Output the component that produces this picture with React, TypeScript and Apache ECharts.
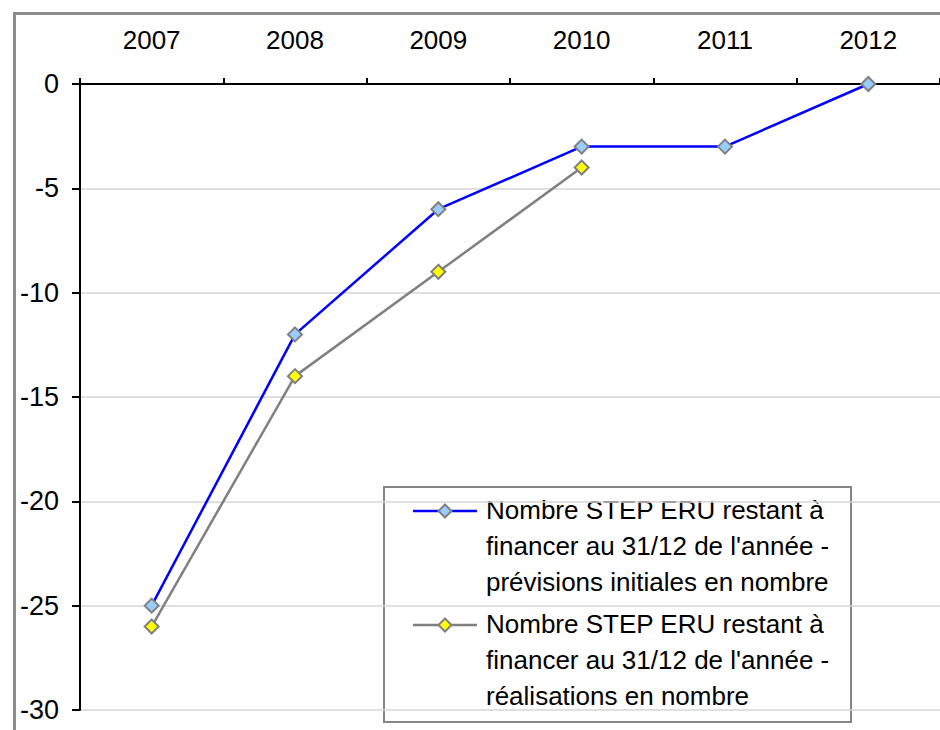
import React, { useEffect, useRef } from "react";
import * as echarts from "echarts";

const years = ["2007", "2008", "2009", "2010", "2011", "2012"];
const previsions = [-25, -12, -6, -3, -3, 0];
const realisations: (number | null)[] = [-26, -14, -9, -4, null, null];
const seriesNames = [
  "Nombre STEP ERU restant à\nfinancer au 31/12 de l'année -\nprévisions initiales en nombre",
  "Nombre STEP ERU restant à\nfinancer au 31/12 de l'année -\nréalisations en nombre",
];

const FONT = "'Liberation Sans', Arial, sans-serif";

export default function App() {
  const ref = useRef<HTMLDivElement>(null);
  useEffect(() => {
    if (!ref.current) return;
    const chart = echarts.init(ref.current, undefined, { renderer: "svg" });
    const diamond = (cx: number, cy: number, r: number) => [
      [cx, cy - r],
      [cx + r, cy],
      [cx, cy + r],
      [cx - r, cy],
    ];
    chart.setOption({
      animation: false,
      backgroundColor: "#ffffff",
      textStyle: { fontFamily: FONT },
      grid: { left: 80, top: 84, width: 865, height: 626, containLabel: false },
      xAxis: {
        type: "category",
        data: years,
        position: "top",
        boundaryGap: true,
        axisLine: { show: true, lineStyle: { color: "#000", width: 2 } },
        axisTick: { show: true, length: 6, lineStyle: { color: "#000", width: 2 } },
        axisLabel: { color: "#000", fontSize: 26, fontFamily: FONT, margin: 31 },
        splitLine: { show: false },
      },
      yAxis: {
        type: "value",
        min: -30,
        max: 0,
        interval: 5,
        axisLine: { show: true, lineStyle: { color: "#000", width: 2 } },
        axisTick: { show: true, length: 8, lineStyle: { color: "#000", width: 2 } },
        axisLabel: { color: "#000", fontSize: 27, fontFamily: FONT, margin: 21 },
        splitLine: { show: true, lineStyle: { color: "#d6d6d6", width: 1.5 } },
      },
      series: [
        {
          name: seriesNames[1],
          type: "line",
          data: realisations,
          symbol: "diamond",
          symbolSize: 14,
          lineStyle: { color: "#808080", width: 2.5 },
          itemStyle: { color: "#ffff00", borderColor: "#808080", borderWidth: 2 },
          z: 2,
        },
        {
          name: seriesNames[0],
          type: "line",
          data: previsions,
          symbol: "diamond",
          symbolSize: 14,
          lineStyle: { color: "#0000ff", width: 2.5 },
          itemStyle: { color: "#99ccff", borderColor: "#808080", borderWidth: 2 },
          z: 3,
        },
      ],
      graphic: [
        {
          type: "rect",
          left: 12,
          top: 11,
          shape: { x: 0, y: 0, width: 1000, height: 1000 },
          style: { fill: "none", stroke: "#8c8c8c", lineWidth: 3 },
          silent: true,
          z: 1,
        },
        {
          type: "group",
          z: 100,
          children: [
            {
              type: "rect",
              shape: { x: 384, y: 487, width: 467, height: 235 },
              style: { fill: "#ffffff", stroke: "#858585", lineWidth: 2 },
            },
            {
              type: "line",
              shape: { x1: 413, y1: 511, x2: 477, y2: 511 },
              style: { stroke: "#0000ff", lineWidth: 2.5 },
            },
            {
              type: "polygon",
              shape: { points: diamond(445, 511, 6.5) },
              style: { fill: "#99ccff", stroke: "#808080", lineWidth: 2 },
            },
            {
              type: "text",
              x: 486,
              y: 492,
              style: {
                text: seriesNames[0],
                fontSize: 26,
                fontFamily: FONT,
                fill: "#000",
                lineHeight: 36,
                verticalAlign: "top",
                align: "left",
              },
            },
            {
              type: "line",
              shape: { x1: 413, y1: 625, x2: 477, y2: 625 },
              style: { stroke: "#808080", lineWidth: 2.5 },
            },
            {
              type: "polygon",
              shape: { points: diamond(445, 625, 6.5) },
              style: { fill: "#ffff00", stroke: "#808080", lineWidth: 2 },
            },
            {
              type: "text",
              x: 486,
              y: 606,
              style: {
                text: seriesNames[1],
                fontSize: 26,
                fontFamily: FONT,
                fill: "#000",
                lineHeight: 36,
                verticalAlign: "top",
                align: "left",
              },
            },
          ],
        },
      ],
    });
    return () => chart.dispose();
  }, []);
  return (
    <div
      ref={ref}
      style={{ position: "fixed", left: 0, top: 0, width: 940, height: 730 }}
    />
  );
}
